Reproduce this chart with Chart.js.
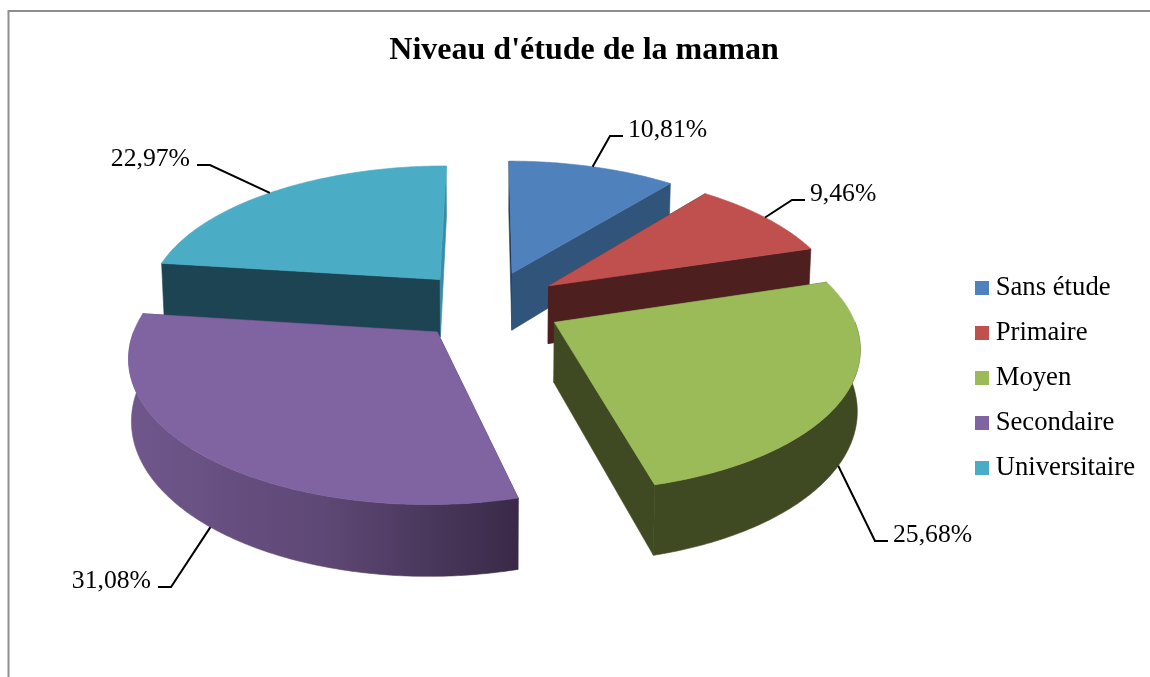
<!DOCTYPE html>
<html><head><meta charset="utf-8">
<style>html,body{margin:0;padding:0;background:#fff}canvas{display:block}</style>
<script src="https://cdn.jsdelivr.net/npm/chart.js@4/dist/chart.umd.min.js"></script>
</head><body><canvas id="c" width="1150" height="677"></canvas>
<script>
const chartTitle = "Niveau d'étude de la maman";
const categories = ["Sans étude", "Primaire", "Moyen", "Secondaire", "Universitaire"];
const shares = [10.81, 9.46, 25.68, 31.08, 22.97];
const topColors = ["#4F81BD", "#C0504D", "#9BBB59", "#8064A2", "#4BACC6"];
const wallColors = ["#31547B", "#4D1F1E", "#404A22", "#5A4673", "#1D4452"];
const startFaceColors = ["#1F3A5A", "#4D1F1E", "#404A22", "#4A3A60", "#1D4452"];
const endFaceColors = ["#31547B", "#4D1F1E", "#404A22", "#3C2C4A", "#3A8CA3"];
const paintOrder = [4, 0, 1, 2, 3];
const labelElbows = [[610,136],[792,200],[875,541],[171,587],[210,165]];
const labelSides = [1, 1, 1, -1, -1];
const leaderNudge = [0, 0, 0.02, -0.02, -0.02];

// view of the tilted pie
const VIEW = {cx: 488, cy: 305, radius: 295, tilt: 0.467, persp: 0.15, depth: 59, explode: 67, converge: 0.008};
const SERIF = "'Liberation Serif','Times New Roman',serif";

function project(X, Y, Z) {
  const w = 1 / (1 - VIEW.persp * Y);
  return [VIEW.cx + X * w * VIEW.radius * (1 - VIEW.converge * Z), VIEW.cy + VIEW.tilt * Y * w * VIEW.radius + Z * VIEW.depth * w];
}
function sliceGeom(el) {
  const p = el.getProps(['startAngle','endAngle','outerRadius']);
  const mid = (p.startAngle + p.endAngle) / 2;
  const d = (el.options.offset || 0) / p.outerRadius;
  return {a0: p.startAngle, a1: p.endAngle, mid, ox: Math.cos(mid) * d, oy: Math.sin(mid) * d};
}
function arcPoints(g, Z, from, to) {
  const pts = [], n = Math.max(2, Math.ceil(Math.abs(to - from) / 0.01));
  for (let i = 0; i <= n; i++) {
    const a = from + (to - from) * i / n;
    pts.push(project(g.ox + Math.cos(a), g.oy + Math.sin(a), Z));
  }
  return pts;
}
function fillPoly(ctx, pts, fill) {
  ctx.beginPath();
  pts.forEach((q, i) => i ? ctx.lineTo(q[0], q[1]) : ctx.moveTo(q[0], q[1]));
  ctx.closePath();
  ctx.fillStyle = fill; ctx.strokeStyle = fill; ctx.lineWidth = 0.6;
  ctx.fill(); ctx.stroke();
}
const pie3d = {
  id: 'pie3d',
  afterLayout(chart) {
    const l = chart.legend;
    l.top += 39; l.bottom += 39; l.left += 5; l.right += 5;
  },
  beforeDraw(chart) {
    const {ctx} = chart;
    ctx.save();
    ctx.fillStyle = '#fff'; ctx.fillRect(0, 0, 1150, 677);
    ctx.strokeStyle = '#8E8E8E'; ctx.lineWidth = 2;
    ctx.beginPath(); ctx.moveTo(8.5, 677); ctx.lineTo(8.5, 11); ctx.lineTo(1150, 11); ctx.stroke();
    ctx.restore();
  },
  beforeDatasetDraw(chart, args) {
    const {ctx} = chart, els = args.meta.data;
    ctx.save();
    paintOrder.forEach(i => {
      const el = els[i], g = sliceGeom(el);
      const apexT = project(g.ox, g.oy, 0), apexB = project(g.ox, g.oy, 1);
      const s = arcPoints(g, 0, g.a0, g.a1), b = arcPoints(g, 1, g.a0, g.a1);
      fillPoly(ctx, [apexT, s[0], b[0], apexB], startFaceColors[i]);
      fillPoly(ctx, [apexT, s[s.length-1], b[b.length-1], apexB], endFaceColors[i]);
      // outer wall: only the part of the rim that faces the viewer
      const from = Math.max(g.a0, 0), to = Math.min(g.a1, Math.PI);
      if (to > from) {
        const ws = arcPoints(g, 0, from, to), wb = arcPoints(g, 1, from, to);
        let wall = wallColors[i];
        if (i === 3) {
          const gr = ctx.createLinearGradient(130, 0, 516, 0);
          gr.addColorStop(0, '#6F578C'); gr.addColorStop(0.5, '#5E4875'); gr.addColorStop(1, '#3A2A48');
          wall = gr;
        }
        fillPoly(ctx, ws.concat(wb.reverse()), wall);
      }
      fillPoly(ctx, [apexT].concat(s), el.options.backgroundColor);
    });
    // leader lines and value labels
    ctx.font = '25.7px ' + SERIF; ctx.textBaseline = 'middle'; ctx.fillStyle = '#000';
    els.forEach((el, i) => {
      const g = sliceGeom(el), a = g.mid + leaderNudge[i], Y = g.oy + Math.sin(a);
      const st = project(g.ox + Math.cos(a), Y, Y > 0 ? 1 : 0);
      const e = labelElbows[i], side = labelSides[i];
      ctx.strokeStyle = '#000'; ctx.lineWidth = 2;
      ctx.beginPath(); ctx.moveTo(st[0], st[1]); ctx.lineTo(e[0], e[1]); ctx.lineTo(e[0] + side * 13, e[1]); ctx.stroke();
      const txt = shares[i].toFixed(2).replace('.', ',') + '%';
      ctx.textAlign = side > 0 ? 'left' : 'right';
      ctx.fillStyle = '#000';
      ctx.fillText(txt, e[0] + (side > 0 ? 18 : -20), e[1] - 6);
    });
    ctx.restore();
    return false;
  }
};
function swatch(color) {
  const c = document.createElement('canvas');
  c.width = 14; c.height = 14;
  const x = c.getContext('2d'); x.fillStyle = color; x.fillRect(0, 0, 14, 14);
  return c;
}
new Chart(document.getElementById('c'), {
  type: 'pie',
  data: {labels: categories, datasets: [{data: shares, backgroundColor: topColors, offset: VIEW.explode, borderWidth: 0}]},
  plugins: [pie3d],
  options: {
    responsive: false, animation: false,
    layout: {padding: {left: 28, right: 10}},
    plugins: {
      tooltip: {enabled: false},
      title: {display: true, text: chartTitle, color: '#000', font: {family: SERIF, size: 32, weight: 'bold'}, padding: {top: 32, bottom: 10}},
      legend: {
        position: 'right',
        labels: {
          color: '#000', font: {family: SERIF, size: 26.7}, padding: 18.3,
          usePointStyle: true, pointStyleWidth: 1, boxHeight: 14,
          generateLabels(chart) {
            return categories.map((t, i) => ({text: t, pointStyle: swatch(topColors[i]), fillStyle: topColors[i], strokeStyle: topColors[i], lineWidth: 0, hidden: false, index: i, fontColor: '#000'}));
          }
        }
      }
    }
  }
});
</script></body></html>
